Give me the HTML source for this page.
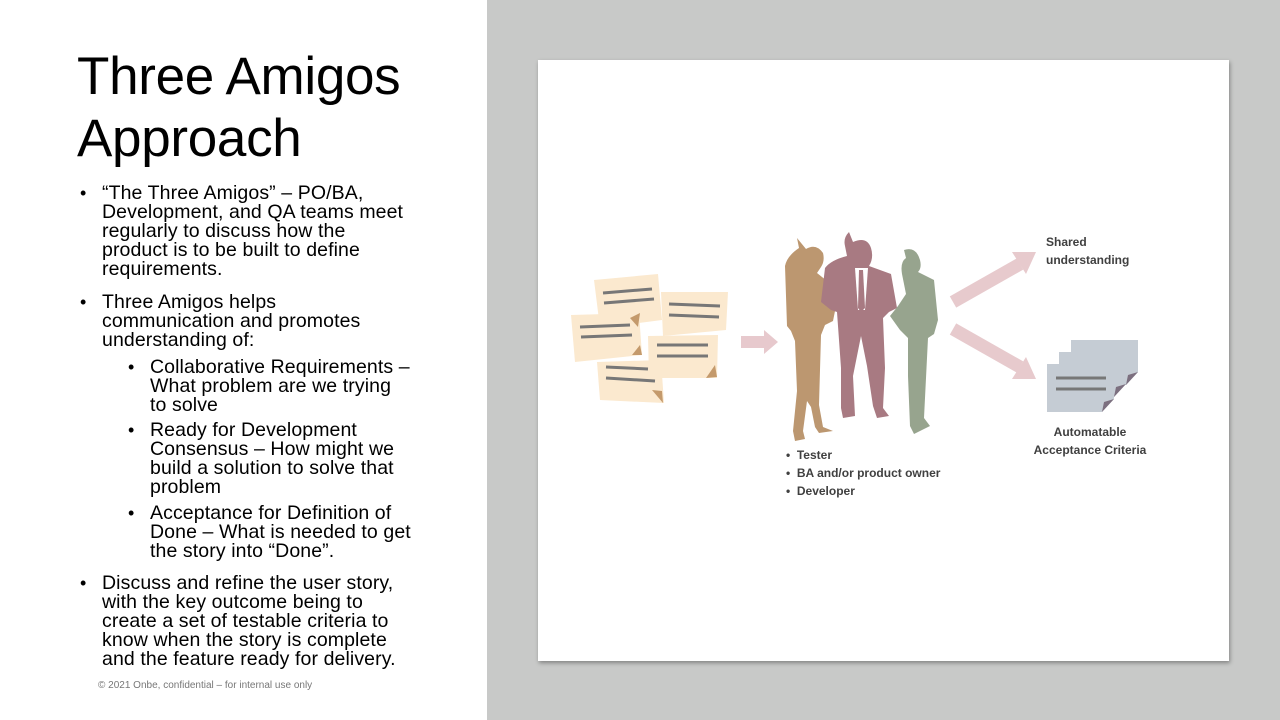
<!DOCTYPE html>
<html><head><meta charset="utf-8"><style>
*{margin:0;padding:0;box-sizing:border-box}
body{width:1280px;height:720px;overflow:hidden;position:relative;background:#fff;font-family:"Liberation Sans",sans-serif;color:#000}
#right{position:absolute;left:487px;top:0;width:793px;height:720px;background:#c8c9c8}
#card{position:absolute;left:538px;top:60px;width:691px;height:601px;background:#fff;box-shadow:1px 2px 4px rgba(0,0,0,.35)}
.t{position:absolute;left:77px;font-size:53px;font-weight:300;line-height:60px;white-space:nowrap;letter-spacing:-0.3px}
.l{position:absolute;font-size:19.5px;line-height:19px;white-space:nowrap;letter-spacing:0.1px}
.d{position:absolute;font-size:18px;line-height:19px}
.foot{position:absolute;left:98px;top:680px;font-size:10px;color:#777}
.s{position:absolute;font-size:12px;font-weight:bold;color:#404040;white-space:nowrap}
</style></head><body>
<div class="t" style="top:47px">Three Amigos</div>
<div class="t" style="top:109px">Approach</div>

<div class="d" style="left:80px;top:184px">•</div>
<div class="l" style="left:102px;top:184px">“The Three Amigos” – PO/BA,</div>
<div class="l" style="left:102px;top:203px">Development, and QA teams meet</div>
<div class="l" style="left:102px;top:222px">regularly to discuss how the</div>
<div class="l" style="left:102px;top:241px">product is to be built to define</div>
<div class="l" style="left:102px;top:260px">requirements.</div>

<div class="d" style="left:80px;top:293px">•</div>
<div class="l" style="left:102px;top:293px">Three Amigos helps</div>
<div class="l" style="left:102px;top:312px">communication and promotes</div>
<div class="l" style="left:102px;top:331px">understanding of:</div>

<div class="d" style="left:128px;top:358px">•</div>
<div class="l" style="left:150px;top:358px">Collaborative Requirements –</div>
<div class="l" style="left:150px;top:377px">What problem are we trying</div>
<div class="l" style="left:150px;top:396px">to solve</div>

<div class="d" style="left:128px;top:421px">•</div>
<div class="l" style="left:150px;top:421px">Ready for Development</div>
<div class="l" style="left:150px;top:440px">Consensus – How might we</div>
<div class="l" style="left:150px;top:459px">build a solution to solve that</div>
<div class="l" style="left:150px;top:478px">problem</div>

<div class="d" style="left:128px;top:504px">•</div>
<div class="l" style="left:150px;top:504px">Acceptance for Definition of</div>
<div class="l" style="left:150px;top:523px">Done – What is needed to get</div>
<div class="l" style="left:150px;top:542px">the story into “Done”.</div>

<div class="d" style="left:80px;top:574px">•</div>
<div class="l" style="left:102px;top:574px">Discuss and refine the user story,</div>
<div class="l" style="left:102px;top:593px">with the key outcome being to</div>
<div class="l" style="left:102px;top:612px">create a set of testable criteria to</div>
<div class="l" style="left:102px;top:631px">know when the story is complete</div>
<div class="l" style="left:102px;top:650px">and the feature ready for delivery.</div>
<div class="foot">© 2021 Onbe, confidential – for internal use only</div>

<div id="right"></div>
<div id="card"></div>
<svg style="position:absolute;left:0;top:0" width="1280" height="720">
 <g fill="#fbe9cf">
  <polygon points="594,280 658,274 662,320 600,328"/>
  <polygon points="661,292 728,292 726,330 663,336"/>
  <polygon points="571,315 639,313 642,355 575,362"/>
  <polygon points="648,336 718,335 717,378 649,378"/>
  <polygon points="597,362 661,360 664,403 600,400"/>
 </g>
 <g fill="#c49a6c"><polygon points="630,318 640,313 638,327"/><polygon points="715,365 706,378 717,377"/><polygon points="652,390 662,391 663,403"/><polygon points="640,345 632,355 642,355"/></g>
 <g stroke="#777" stroke-width="3">
  <line x1="603" y1="293" x2="652" y2="289"/><line x1="604" y1="303" x2="654" y2="299"/>
  <line x1="669" y1="304" x2="720" y2="306"/><line x1="669" y1="315" x2="719" y2="317"/>
  <line x1="580" y1="327" x2="630" y2="325"/><line x1="581" y1="337" x2="632" y2="335"/>
  <line x1="657" y1="345" x2="708" y2="345"/><line x1="657" y1="356" x2="708" y2="356"/>
  <line x1="606" y1="367" x2="648" y2="369"/><line x1="606" y1="378" x2="655" y2="381"/>
 </g>
 <polygon points="741,336 764,336 764,330 778,342 764,354 764,348 741,348" fill="#e7c9cd"/>
 <line x1="953" y1="302" x2="1020" y2="264" stroke="#e7cacd" stroke-width="13"/>
 <polygon points="1012,252 1036,252 1026,274" fill="#e7cacd"/>
 <line x1="953" y1="329" x2="1020" y2="367" stroke="#e7cacd" stroke-width="13"/>
 <polygon points="1012,379 1036,379 1026,357" fill="#e7cacd"/>
 <!-- figures -->
 <path fill="#bc9770" d="M806,249 q10,-6 17,4 q2,8 -2,14 l-4,6 l10,8 l8,30 l-2,10 l-8,4 l-4,10 l-2,70 l4,22 l10,4 l-14,2 l-4,-6 l-4,-20 l-4,-6 l-4,30 l2,8 l-10,2 l-2,-10 l4,-40 l-2,-50 l-4,-10 l-4,-5 l-2,-60 q2,-10 14,-18 l-2,-10 z"/>
 <path fill="#a87a82" d="M853,242 q14,-6 18,6 q3,10 -2,18 l22,8 l6,34 l-8,4 l-6,6 l2,50 l-2,40 l6,8 l-12,2 l-4,-12 l-6,-40 l-6,-30 l-8,40 l2,40 l-12,2 l-2,-10 l0,-40 l-4,-56 l-6,-2 l-10,-8 l4,-34 q6,-8 22,-12 l-2,-10 q-2,-8 4,-14 z"/>
 <path fill="#fff" d="M855,268 l13,0 l-3,42 l-7,0 z"/>
 <path fill="#a87a82" d="M859,270 l4,0 l2,38 l-4,4 l-3,-4 z"/>
 <path fill="#97a48e" d="M904,250 q12,-4 16,10 q2,8 -2,12 l16,8 l4,40 l-4,14 l-6,4 l-2,40 l-2,40 l6,8 l-16,8 l-4,-8 l-2,-50 l0,-38 l-8,-8 l-10,-14 l8,-10 l8,-12 l-4,-20 q-2,-12 4,-16 z"/>
 <!-- docs -->
 <g fill="#c5ccd4"><polygon points="1071,340 1138,340 1138,372 1126,385 1071,385"/><polygon points="1059,352 1126,352 1126,384 1114,397 1059,397"/><polygon points="1047,364 1114,364 1114,399 1102,412 1047,412"/></g>
 <g fill="#7c6f7f"><polygon points="1138,372 1126,385 1128,375"/><polygon points="1126,384 1114,397 1116,387"/><polygon points="1114,399 1102,412 1104,402"/></g>
 <g stroke="#777" stroke-width="3"><line x1="1056" y1="378" x2="1106" y2="378"/><line x1="1056" y1="389" x2="1106" y2="389"/></g>
</svg>
<div class="s" style="left:1046px;top:233px;line-height:18px">Shared<br>understanding</div>
<div class="s" style="left:1028px;top:423px;line-height:18px;text-align:center;width:124px">Automatable<br>Acceptance Criteria</div>
<div class="s" style="left:786px;top:446px;line-height:18px">•&nbsp;&nbsp;Tester<br>•&nbsp;&nbsp;BA and/or product owner<br>•&nbsp;&nbsp;Developer</div>
</body></html>
